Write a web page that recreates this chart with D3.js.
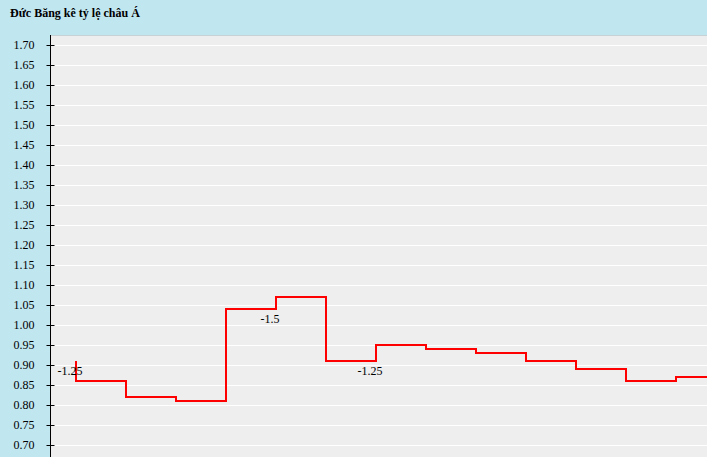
<!DOCTYPE html>
<html lang="vi">
<head>
  <meta charset="utf-8">
  <title>Bảng kê</title>
  <script src="https://d3js.org/d3.v7.min.js"></script>
  <style>
  body {
    margin: 0;
    background: #c0e6f0;
    font-family: "Liberation Serif", "Times New Roman", serif;
  }
  .title {
    font-size: 12px;
    font-weight: bold;
    fill: #000;
  }
  .y-axis text {
    font-family: "Liberation Serif", serif;
    font-size: 12px;
    fill: #000;
  }
  .pt-label {
    font-size: 12px;
    fill: #000;
    text-anchor: middle;
  }
  </style>
</head>
<body>
<script>

// Data
var steps = [0, 1, 2, 3, 4, 5, 6, 7, 8, 9, 10, 11, 12, 13];
var odds = [0.91, 0.86, 0.82, 0.81, 1.04, 1.07, 0.91, 0.95, 0.94, 0.93, 0.91, 0.89, 0.86, 0.87];
var handicaps = ["-1.25", null, null, null, "-1.5", null, "-1.25", null, null, null, null, null, null, null];
var yTicks = [0.70, 0.75, 0.80, 0.85, 0.90, 0.95, 1.00, 1.05, 1.10, 1.15, 1.20, 1.25, 1.30, 1.35, 1.40, 1.45, 1.50, 1.55, 1.60, 1.65, 1.70];
var titleText = "Đức Băng kê tỷ lệ châu Á";

// Display constants
var width = 707;
var height = 457;
var plotLeft = 51;
var plotTop = 35;

var svg = d3.select("body")
  .append("svg")
  .attr("width", width)
  .attr("height", height)
  .style("display", "block");

svg.append("rect")
  .attr("width", width)
  .attr("height", height)
  .attr("fill", "#c0e6f0");

svg.append("text")
  .attr("class", "title")
  .attr("x", 10)
  .attr("y", 17)
  .text(titleText);

var y = d3.scaleLinear()
  .domain([0.70, 1.70])
  .range([445, 45]);

var x = d3.scaleLinear()
  .domain([0, 1])
  .range([76, 126]);

// plot area
svg.append("rect")
  .attr("x", plotLeft)
  .attr("y", plotTop)
  .attr("width", width - plotLeft)
  .attr("height", height - plotTop)
  .attr("fill", "#eeeeee");

svg.append("line")
  .attr("x1", plotLeft)
  .attr("x2", width)
  .attr("y1", plotTop + 0.5)
  .attr("y2", plotTop + 0.5)
  .attr("stroke", "#c6d2d6");

svg.append("clipPath")
  .attr("id", "plot-clip")
  .append("rect")
  .attr("x", plotLeft)
  .attr("y", plotTop)
  .attr("width", width - plotLeft)
  .attr("height", height - plotTop);

// gridlines
svg.append("g")
  .selectAll("line")
  .data(yTicks)
  .enter().append("line")
  .attr("x1", plotLeft)
  .attr("x2", width)
  .attr("y1", function(d) { return Math.round(y(d)) + 0.5; })
  .attr("y2", function(d) { return Math.round(y(d)) + 0.5; })
  .attr("stroke", "#ffffff")
  .attr("stroke-width", 1);

// y axis
var yAxis = svg.append("g")
  .attr("class", "y-axis")
  .attr("transform", "translate(50.5,0)")
  .call(d3.axisLeft(y)
    .tickValues(yTicks)
    .tickSize(4)
    .tickPadding(12)
    .tickFormat(d3.format(".2f")));

yAxis.select(".domain").remove();
yAxis.append("line")
  .attr("y1", plotTop)
  .attr("y2", height)
  .attr("stroke", "#000");
yAxis.selectAll(".tick")
  .attr("transform", function(d) { return "translate(0," + (Math.round(y(d)) + 0.5) + ")"; });
yAxis.selectAll(".tick line")
  .attr("x1", -4)
  .attr("x2", 4)
  .attr("stroke", "#000");
yAxis.selectAll(".tick text")
  .attr("x", -16)
  .attr("font-family", "Liberation Serif");

// step line
var line = d3.line()
  .curve(d3.curveStepBefore)
  .x(function(d, i) { return x(steps[i]); })
  .y(function(d) { return y(d); });

svg.append("path")
  .datum(odds)
  .attr("clip-path", "url(#plot-clip)")
  .attr("fill", "none")
  .attr("stroke", "#ff0000")
  .attr("stroke-width", 2)
  .attr("d", line);

// handicap labels where the line changes
svg.append("g")
  .selectAll("text")
  .data(odds.map(function(v, i) { return {i: i, v: v, label: handicaps[i]}; })
    .filter(function(d) { return d.label; }))
  .enter().append("text")
  .attr("class", "pt-label")
  .attr("x", function(d) { return x(steps[d.i]) - 6; })
  .attr("y", function(d) { return y(d.v) + 14; })
  .text(function(d) { return d.label; });

</script>
</body>
</html>
